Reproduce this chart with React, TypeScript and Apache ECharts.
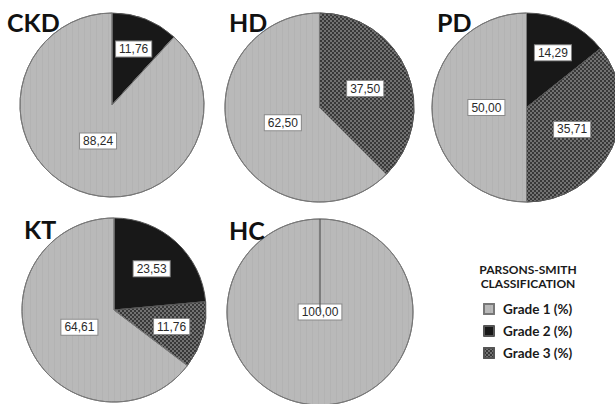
import React, { useEffect, useRef } from 'react';
import * as echarts from 'echarts';

// ---- data ----
const groups = ['CKD', 'HD', 'PD', 'KT', 'HC'];
const gradeNames = ['Grade 1 (%)', 'Grade 2 (%)', 'Grade 3 (%)'];
const grade1 = [88.24, 62.5, 50.0, 64.61, 100.0];
const grade2 = [11.76, 0, 14.29, 23.53, 0];
const grade3 = [0, 37.5, 35.71, 11.76, 0];
const legendTitleLines = ['PARSONS-SMITH', 'CLASSIFICATION'];

// ---- layout (pixels) ----
const pieLayout = [
  { cx: 112, cy: 105, r: 92, tx: 7, ty: 9 },
  { cx: 319.5, cy: 107.5, r: 94.5, tx: 229, ty: 9 },
  { cx: 526.5, cy: 107.5, r: 94.5, tx: 437, ty: 9 },
  { cx: 114, cy: 310, r: 92, tx: 24, ty: 216 },
  { cx: 320, cy: 312, r: 93, tx: 229, ty: 217 },
];

// ---- styles ----
const gradeStyles: Record<string, any> = {
  'Grade 1 (%)': {
    color: '#b9b9b9',
    borderColor: '#777',
    borderWidth: 1,
    decal: {
      symbol: 'rect',
      symbolSize: 1,
      color: 'rgba(0,0,0,0.03)',
      dashArrayX: [1, 5],
      dashArrayY: [10, 0],
    },
  },
  'Grade 2 (%)': {
    color: '#181818',
    borderColor: '#555',
    borderWidth: 1,
  },
  'Grade 3 (%)': {
    color: '#383838',
    borderColor: '#555',
    borderWidth: 1,
    decal: {
      symbol: 'rect',
      symbolSize: 1,
      color: '#727272',
      dashArrayX: [[2, 2], [0, 2, 2, 0]],
      dashArrayY: [2, 0],
    },
  },
};

function sliceValues(i: number): number[] {
  // clockwise from 12 o'clock: Grade 2, Grade 3, Grade 1
  return [grade2[i], grade3[i], grade1[i]];
}
const sliceNames = ['Grade 2 (%)', 'Grade 3 (%)', 'Grade 1 (%)'];

function labelPoint(i: number, j: number) {
  const vals = sliceValues(i);
  const total = vals.reduce((a, b) => a + b, 0);
  let before = 0;
  for (let k = 0; k < j; k++) before += vals[k];
  const frac = vals[j] / total;
  const mid = ((before / total) + frac / 2) * Math.PI * 2;
  const alpha = frac * Math.PI;
  const k = frac >= 0.999 ? 0 : Math.max(0.42, (2 * Math.sin(alpha)) / (3 * alpha));
  const { cx, cy, r } = pieLayout[i];
  return { x: cx + k * r * Math.sin(mid), y: cy - k * r * Math.cos(mid) };
}

export default function App() {
  const ref = useRef<HTMLDivElement>(null);
  useEffect(() => {
    if (!ref.current) return;
    const chart = echarts.init(ref.current, null, { renderer: 'svg' });
    const series = groups.map((g, i) => {
      const vals = sliceValues(i);
      return {
        type: 'pie',
        name: g,
        center: [pieLayout[i].cx, pieLayout[i].cy],
        radius: [0, pieLayout[i].r],
        startAngle: 90,
        clockwise: true,
        avoidLabelOverlap: false,
        silent: true,
        labelLine: { show: false },
        label: {
          show: true,
          position: 'inside',
          formatter: (p: any) => Number(p.value).toFixed(2).replace('.', ','),
          color: '#2a2a2a',
          fontFamily: 'Liberation Sans',
          fontSize: 12,
          backgroundColor: '#ffffff',
          borderColor: '#8a8a8a',
          borderWidth: 1,
          padding: [2, 3, 1, 3],
        },
        labelLayout: (params: any) => {
          const pt = labelPoint(i, params.dataIndex);
          return { x: pt.x, y: pt.y, align: 'center', verticalAlign: 'middle' };
        },
        data: vals.map((v, j) => ({
          name: sliceNames[j],
          value: v,
          itemStyle: gradeStyles[sliceNames[j]],
          label: { show: v > 0 },
        })),
      };
    });
    // boundary line of a slice that fills the whole pie (starts at 12 o'clock)
    const fullLines: any[] = [];
    groups.forEach((g, i) => {
      const vals = sliceValues(i);
      const total = vals.reduce((a, b) => a + b, 0);
      if (vals.some((v) => v / total >= 0.999)) {
        const { cx, cy, r } = pieLayout[i];
        fullLines.push({
          type: 'line',
          silent: true,
          z: 10,
          shape: { x1: cx, y1: cy, x2: cx, y2: cy - r },
          style: { stroke: '#555', lineWidth: 1.2 },
        });
      }
    });
    const titles: any[] = groups.map((g, i) => ({
      text: g,
      left: pieLayout[i].tx,
      top: pieLayout[i].ty,
      padding: 0,
      textStyle: {
        fontFamily: 'Lato',
        fontWeight: 'bold',
        fontSize: 25,
        color: '#111',
      },
    }));
    legendTitleLines.forEach((t, k) => {
      titles.push({
        text: t,
        left: 528,
        top: 263 + k * 14,
        padding: 0,
        textAlign: 'center',
        textStyle: {
          fontFamily: 'Lato',
          fontWeight: 'bold',
          fontSize: 12,
          lineHeight: 13,
          color: '#1a1a1a',
        },
      });
    });
    chart.setOption({
      animation: false,
      backgroundColor: '#ffffff',
      title: titles,
      graphic: fullLines,
      legend: {
        orient: 'vertical',
        left: 483,
        top: 302,
        padding: 0,
        itemWidth: 10,
        itemHeight: 10,
        itemGap: 8,
        icon: 'rect',
        selectedMode: false,
        data: gradeNames,
        textStyle: {
          fontFamily: 'Lato',
          fontWeight: 'bold',
          fontSize: 13.5,
          color: '#1a1a1a',
          padding: [0, 0, 0, 4],
        },
      },
      series,
    });
    return () => chart.dispose();
  }, []);
  return (
    <div
      ref={ref}
      style={{ position: 'absolute', left: 0, top: 0, width: 615, height: 404 }}
    />
  );
}
